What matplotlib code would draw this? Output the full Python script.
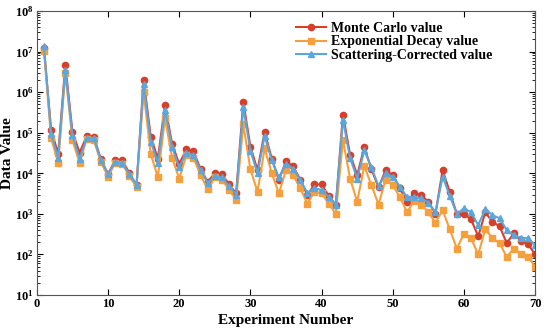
import matplotlib
matplotlib.use('Agg')
import matplotlib.pyplot as plt
from matplotlib.ticker import LogLocator, FuncFormatter, NullFormatter
import numpy as np

# experiment index and the three series
experiment = list(range(1, 71))

monte_carlo = [1.2e7, 1.2e5, 3.0e4, 4.7e6, 1.05e5, 3.2e4, 8.3e4, 8.0e4, 2.2e4, 9.6e3,
               2.1e4, 2.1e4, 1.0e4, 5.1e3, 2.0e6, 8.0e4, 2.3e4, 4.8e5, 5.3e4, 1.7e4,
               3.9e4, 3.5e4, 1.26e4, 6.2e3, 1.0e4, 9.5e3, 5.4e3, 3.2e3, 5.8e5, 4.5e4,
               1.2e4, 1.05e5, 2.3e4, 6.8e3, 2.0e4, 1.5e4, 7.0e3, 2.9e3, 5.3e3, 5.3e3,
               2.8e3, 1.66e3, 2.8e5, 2.9e4, 9.1e3, 4.4e4, 1.26e4, 4.5e3, 1.2e4, 9.0e3,
               4.3e3, 2.0e3, 3.3e3, 2.9e3, 2.0e3, 1.0e3, 1.2e4, 3.5e3, 1.0e3, 1.0e3,
               7.3e2, 2.8e2, 1.1e3, 6.3e2, 5.0e2, 1.9e2, 3.3e2, 2.2e2, 1.8e2, 1.0e2]

exp_decay = [1.05e7, 7.4e4, 1.8e4, 3.0e6, 6.6e4, 1.8e4, 7.0e4, 6.5e4, 1.9e4, 8.2e3,
             1.8e4, 1.7e4, 8.5e3, 4.6e3, 1.0e6, 3.0e4, 8.0e3, 2.3e5, 2.4e4, 7.4e3,
             2.8e4, 2.4e4, 9.0e3, 4.0e3, 7.9e3, 7.0e3, 3.9e3, 2.2e3, 1.6e5, 1.26e4,
             3.5e3, 4.1e4, 1.0e4, 3.2e3, 1.2e4, 9.0e3, 4.3e3, 1.8e3, 3.5e3, 3.2e3,
             1.8e3, 1.0e3, 6.6e4, 7.4e3, 2.0e3, 1.5e4, 5.1e3, 1.7e3, 7.0e3, 5.1e3,
             2.6e3, 1.1e3, 2.1e3, 1.7e3, 1.1e3, 6.0e2, 1.24e3, 4.2e2, 1.4e2, 3.2e2,
             2.5e2, 1.0e2, 4.2e2, 2.5e2, 1.9e2, 87, 1.4e2, 1.0e2, 87, 50]

scatter_corr = [1.35e7, 9.4e4, 2.4e4, 3.6e6, 8.7e4, 2.3e4, 7.4e4, 7.3e4, 2.1e4, 9.6e3,
                1.9e4, 1.8e4, 9.5e3, 5.1e3, 1.6e6, 6.0e4, 1.8e4, 3.6e5, 4.4e4, 1.4e4,
                3.2e4, 2.8e4, 1.2e4, 5.8e3, 8.5e3, 7.9e3, 4.8e3, 3.0e3, 4.2e5, 3.6e4,
                1.0e4, 8.3e4, 2.1e4, 7.9e3, 1.7e4, 1.3e4, 6.8e3, 3.3e3, 4.3e3, 3.9e3,
                2.6e3, 1.66e3, 2.1e5, 2.4e4, 7.4e3, 3.7e4, 1.4e4, 4.8e3, 1.0e4, 8.2e3,
                4.7e3, 2.6e3, 2.6e3, 2.4e3, 1.9e3, 1.1e3, 8.2e3, 2.8e3, 1.0e3, 1.37e3,
                1.1e3, 5.3e2, 1.3e3, 9.3e2, 7.8e2, 4.0e2, 3.0e2, 2.6e2, 2.5e2, 1.7e2]

labels = ['Monte Carlo value', 'Exponential Decay value', 'Scattering-Corrected value']

plt.rcParams['font.family'] = ['Liberation Serif', 'DejaVu Serif']
plt.rcParams['font.weight'] = 'bold'
plt.rcParams['mathtext.fontset'] = 'custom'
plt.rcParams['mathtext.rm'] = 'Liberation Serif'
plt.rcParams['mathtext.bf'] = 'Liberation Serif:bold'
plt.rcParams['mathtext.default'] = 'bf'

fig = plt.figure(figsize=(5.5, 3.33), dpi=100)
ax = fig.add_axes([0.067, 0.114, 0.906, 0.853])

ax.plot(experiment, monte_carlo, '-o', color='#d6402b', lw=1.5, ms=4.5, label=labels[0])
ax.plot(experiment, exp_decay, '-s', color='#f5a03c', lw=1.5, ms=4.0, label=labels[1])
ax.plot(experiment, scatter_corr, '-^', color='#5ca6dc', lw=1.5, ms=4.8, label=labels[2])

ax.set_yscale('log')
ax.set_xlim(0, 70)
ax.set_ylim(1e1, 1e8)
ax.set_xticks(range(0, 71, 10))
ax.yaxis.set_major_locator(LogLocator(base=10, numticks=20))
ax.yaxis.set_minor_locator(LogLocator(base=10, subs=np.arange(2, 10), numticks=20))
ax.yaxis.set_minor_formatter(NullFormatter())
ax.yaxis.set_major_formatter(FuncFormatter(lambda v, p: r'$10^{%d}$' % round(np.log10(v))))

ax.tick_params(which='both', direction='in', top=True, right=True, labelsize=9, pad=2)
ax.tick_params(which='major', length=4)
ax.tick_params(which='minor', length=2)
for s in ax.spines.values():
    s.set_color('#555555')
    s.set_linewidth(0.8)

ax.set_xlabel('Experiment Number', fontsize=11, fontweight='bold')
ax.set_ylabel('Data Value', fontsize=11, fontweight='bold')
ax.xaxis.set_label_coords(0.5, -0.068)
ax.yaxis.set_label_coords(-0.045, 0.5)

leg = ax.legend(loc='upper right', bbox_to_anchor=(0.93, 0.99), frameon=False,
                prop={'family': 'Liberation Serif', 'weight': 'bold', 'size': 10},
                handlelength=2.2, borderaxespad=0.2, labelspacing=0.02, handletextpad=0.3)

fig.savefig('out.png', dpi=100)
